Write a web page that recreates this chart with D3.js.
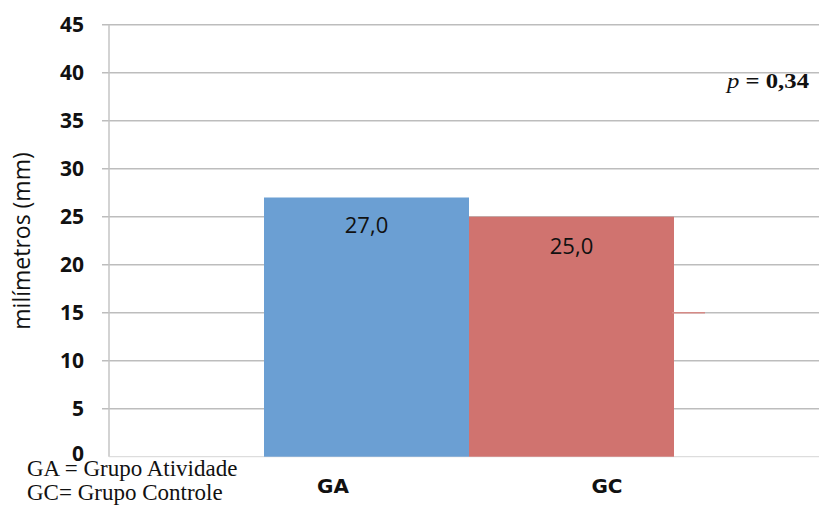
<!DOCTYPE html>
<html>
<head>
<meta charset="utf-8">
<script src="https://cdn.jsdelivr.net/npm/d3@7"></script>
<style>
  html, body { margin: 0; padding: 0; background: #fff; }
  svg { display: block; }
</style>
</head>
<body>
<svg id="chart" width="819" height="506"></svg>
<script>
// Group means (mm)
const categories = ["GA", "GC"];
const values = [27.0, 25.0];
const valueLabels = ["27,0", "25,0"];
const colors = ["#6b9fd3", "#d0736f"];
const yTicks = [0, 5, 10, 15, 20, 25, 30, 35, 40, 45];
const yTitle = "milímetros (mm)";
const pText = "0,34";
const notes = ["GA = Grupo Atividade", "GC= Grupo Controle"];

const svg = d3.select("#chart");
const sans = "'Open Sans', 'DejaVu Sans', sans-serif";
const serif = "'Liberation Serif', 'DejaVu Serif', serif";

const plot = { left: 109, right: 819, top: 24.7, bottom: 456.7 };

const y = d3.scaleLinear().domain([0, 45]).range([plot.bottom, plot.top]);
const x = d3.scaleBand().domain(categories).range([264, 674]).paddingInner(0).paddingOuter(0);
const xLabel = d3.scalePoint().domain(categories).range([333, 607]);

// horizontal gridlines
svg.append("g")
  .selectAll("line")
  .data(yTicks.filter(t => t > 0))
  .join("line")
  .attr("x1", plot.left - 7)
  .attr("x2", plot.right)
  .attr("y1", d => y(d))
  .attr("y2", d => y(d))
  .attr("stroke", "#bdbdbd")
  .attr("stroke-width", 1.5);

// y axis line
svg.append("line")
  .attr("x1", plot.left).attr("x2", plot.left)
  .attr("y1", y(45)).attr("y2", y(0))
  .attr("stroke", "#c4c4c4")
  .attr("stroke-width", 1.5);

// baseline
svg.append("line")
  .attr("x1", plot.left).attr("x2", plot.right)
  .attr("y1", y(0)).attr("y2", y(0))
  .attr("stroke", "#d6d6d6")
  .attr("stroke-width", 1);

// y tick labels
svg.append("g")
  .selectAll("text")
  .data(yTicks)
  .join("text")
  .attr("x", 84)
  .attr("y", d => y(d) - (d === 0 ? 3 : 0))
  .attr("dy", "0.36em")
  .attr("text-anchor", "end")
  .attr("font-family", sans)
  .attr("font-weight", "bold")
  .attr("font-size", 21)
  .attr("fill", "#111")
  .text(d => d);

// y axis title
svg.append("text")
  .attr("transform", `translate(30, ${241}) rotate(-90)`)
  .attr("text-anchor", "middle")
  .attr("font-family", sans)
  .attr("font-size", 23)
  .attr("fill", "#111")
  .text(yTitle);

// bars
svg.append("g")
  .selectAll("rect")
  .data(values)
  .join("rect")
  .attr("x", (d, i) => x(categories[i]))
  .attr("width", x.bandwidth())
  .attr("y", d => y(d))
  .attr("height", d => y(0) - y(d))
  .attr("fill", (d, i) => colors[i]);

// short stub beside the GC bar at 15 mm
svg.append("line")
  .attr("x1", x("GC") + x.bandwidth() - 2)
  .attr("x2", x("GC") + x.bandwidth() + 31)
  .attr("y1", y(15)).attr("y2", y(15))
  .attr("stroke", "#d58a86")
  .attr("stroke-width", 1.5);

// value labels
svg.append("g")
  .selectAll("text")
  .data(values)
  .join("text")
  .attr("x", (d, i) => x(categories[i]) + x.bandwidth() / 2)
  .attr("y", (d, i) => y(d) + 35 + i * 2)
  .attr("text-anchor", "middle")
  .attr("font-family", sans)
  .attr("font-size", 22)
  .attr("fill", "#111")
  .text((d, i) => valueLabels[i]);

// category labels
svg.append("g")
  .selectAll("text")
  .data(categories)
  .join("text")
  .attr("x", d => xLabel(d))
  .attr("y", 493)
  .attr("text-anchor", "middle")
  .attr("font-family", "'DejaVu Sans', sans-serif")
  .attr("font-weight", "bold")
  .attr("font-size", 20)
  .attr("fill", "#111")
  .text(d => d);

// p-value
const pLabel = svg.append("text")
  .attr("x", 727)
  .attr("y", 88)
  .attr("font-family", serif)
  .attr("font-size", 21)
  .attr("font-weight", "bold")
  .attr("fill", "#111")
  .attr("textLength", 82)
  .attr("lengthAdjust", "spacingAndGlyphs");
pLabel.append("tspan").attr("font-style", "italic").attr("font-weight", "normal").text("p");
pLabel.append("tspan").text(" = " + pText);

// group notes
svg.append("g")
  .selectAll("text")
  .data(notes)
  .join("text")
  .attr("x", 27)
  .attr("y", (d, i) => 476 + i * 24)
  .attr("font-family", serif)
  .attr("font-size", 23)
  .attr("fill", "#111")
  .text(d => d);
</script>
</body>
</html>
